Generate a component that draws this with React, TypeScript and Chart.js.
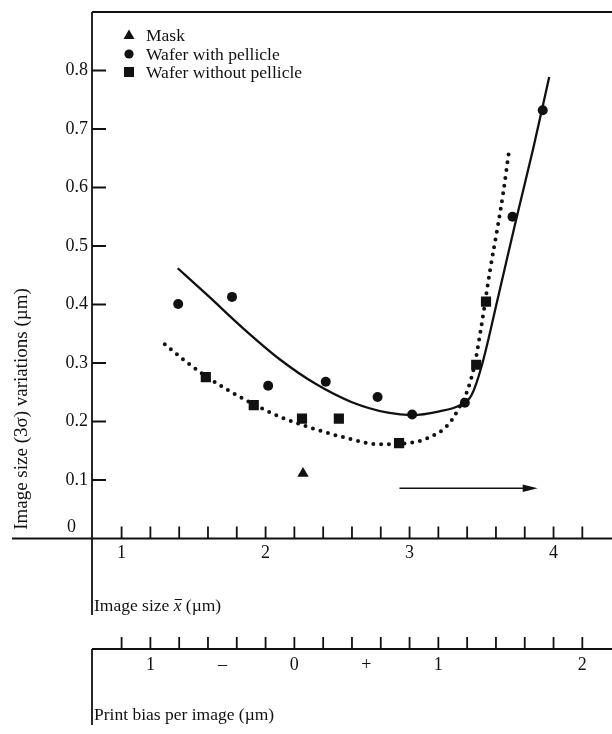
import React, { useEffect, useRef } from "react";
import { Chart, registerables } from "chart.js";
Chart.register(...registerables);

// ---------- data ----------
const maskX = [2.26];
const maskY = [0.111];

const withPellicleX = [1.393, 1.767, 2.018, 2.418, 2.778, 3.018, 3.384, 3.715, 3.925];
const withPellicleY = [0.401, 0.413, 0.261, 0.268, 0.242, 0.212, 0.232, 0.55, 0.732];

const withoutPellicleX = [1.585, 1.918, 2.253, 2.509, 2.927, 3.463, 3.531];
const withoutPellicleY = [0.276, 0.228, 0.205, 0.205, 0.163, 0.297, 0.405];

const withFitX = [1.39, 1.6, 1.85, 2.1, 2.35, 2.6, 2.85, 3.02, 3.2, 3.35, 3.43, 3.5, 3.62, 3.74, 3.86, 3.97];
const withFitY = [0.462, 0.415, 0.358, 0.306, 0.264, 0.233, 0.215, 0.211, 0.217, 0.228, 0.245, 0.294, 0.418, 0.545, 0.668, 0.789];

const withoutFitX = [1.3, 1.45, 1.6, 1.75, 1.92, 2.1, 2.33, 2.56, 2.79, 2.95, 3.13, 3.27, 3.35, 3.4, 3.45, 3.5, 3.56, 3.61, 3.65, 3.69];
const withoutFitY = [0.332, 0.302, 0.275, 0.252, 0.229, 0.208, 0.188, 0.172, 0.161, 0.162, 0.172, 0.195, 0.226, 0.252, 0.295, 0.365, 0.46, 0.53, 0.59, 0.661];

const legendLabels = ["Mask", "Wafer with pellicle", "Wafer without pellicle"];

const yTickValues = [0, 0.1, 0.2, 0.3, 0.4, 0.5, 0.6, 0.7, 0.8];
const yTickLabels = ["0", "0.1", "0.2", "0.3", "0.4", "0.5", "0.6", "0.7", "0.8"];

const xTickValues = [1.0, 1.2, 1.4, 1.6, 1.8, 2.0, 2.2, 2.4, 2.6, 2.8, 3.0, 3.2, 3.4, 3.6, 3.8, 4.0, 4.2];
const xLabelValues = [1, 2, 3, 4];
const xLabels = ["1", "2", "3", "4"];

const biasOffset = 2.2; // print bias 0 corresponds to image size 2.2 µm
const biasTickValues = [-1.2, -1.0, -0.8, -0.6, -0.4, -0.2, 0, 0.2, 0.4, 0.6, 0.8, 1.0, 1.2, 1.4, 1.6, 1.8, 2.0];
const biasLabelValues = [-1, -0.5, 0, 0.5, 1, 2];
const biasLabels = ["1", "\u2013", "0", "+", "1", "2"];

const arrowStartX = 2.93;
const arrowEndX = 3.89;
const arrowY = 0.086;

const yTitle = "Image size (3\u03c3) variations (\u00b5m)";
const biasTitle = "Print bias per image (\u00b5m)";

const FONT = "'Liberation Serif', 'Times New Roman', serif";
const INK = "#111";

function pts(xs: number[], ys: number[]) {
  return xs.map((x, i) => ({ x, y: ys[i] }));
}

const overlay = {
  id: "overlay",
  afterDraw(chart: any) {
    const ctx: CanvasRenderingContext2D = chart.ctx;
    const xs = chart.scales.x;
    const ys = chart.scales.y;
    const area = chart.chartArea;
    const W = chart.width;
    const left = area.left;
    const top = area.top;
    const y0 = ys.getPixelForValue(0);
    ctx.save();
    ctx.strokeStyle = INK;
    ctx.fillStyle = INK;
    ctx.lineWidth = 1.8;
    ctx.lineCap = "butt";

    // frame
    ctx.beginPath();
    ctx.moveTo(left, top);
    ctx.lineTo(W, top);
    ctx.moveTo(left, top);
    ctx.lineTo(left, 615);
    ctx.moveTo(12, y0);
    ctx.lineTo(W, y0);
    ctx.stroke();

    // y ticks
    ctx.beginPath();
    yTickValues.forEach((v) => {
      if (v === 0) return;
      const py = ys.getPixelForValue(v);
      ctx.moveTo(left, py);
      ctx.lineTo(left + 14, py);
    });
    // x ticks
    xTickValues.forEach((v) => {
      const px = xs.getPixelForValue(v);
      ctx.moveTo(px, y0);
      ctx.lineTo(px, y0 - 12);
    });
    ctx.stroke();

    ctx.font = `18px ${FONT}`;
    ctx.textBaseline = "middle";
    ctx.textAlign = "right";
    yTickValues.forEach((v, i) => {
      const py = ys.getPixelForValue(v);
      if (v === 0) ctx.fillText(yTickLabels[i], 76, py - 11);
      else ctx.fillText(yTickLabels[i], 88, py);
    });
    ctx.textAlign = "center";
    xLabelValues.forEach((v, i) => {
      ctx.fillText(xLabels[i], xs.getPixelForValue(v), y0 + 15);
    });

    // x title
    ctx.font = `17.5px ${FONT}`;
    ctx.textAlign = "left";
    let tx = left + 2;
    const ty = 606;
    ctx.fillText("Image size ", tx, ty);
    tx += ctx.measureText("Image size ").width;
    ctx.font = `italic 17.5px ${FONT}`;
    const wx = ctx.measureText("x").width;
    ctx.fillText("x", tx, ty);
    ctx.beginPath();
    ctx.lineWidth = 1;
    ctx.moveTo(tx + 1, ty - 6.5);
    ctx.lineTo(tx + wx + 0.5, ty - 6.5);
    ctx.stroke();
    tx += wx;
    ctx.font = `17.5px ${FONT}`;
    ctx.fillText(" (\u00b5m)", tx, ty);

    // lower bias axis
    const by = 649;
    ctx.lineWidth = 1.8;
    ctx.beginPath();
    ctx.moveTo(left, by);
    ctx.lineTo(W, by);
    ctx.moveTo(left, by);
    ctx.lineTo(left, 725);
    biasTickValues.forEach((v) => {
      const px = xs.getPixelForValue(v + biasOffset);
      ctx.moveTo(px, by);
      ctx.lineTo(px, by - 12);
    });
    ctx.stroke();
    ctx.font = `18px ${FONT}`;
    ctx.textAlign = "center";
    biasLabelValues.forEach((v, i) => {
      ctx.fillText(biasLabels[i], xs.getPixelForValue(v + biasOffset), by + 16);
    });
    ctx.font = `17.5px ${FONT}`;
    ctx.textAlign = "left";
    ctx.fillText(biasTitle, left + 2, 715);

    // y title
    ctx.save();
    ctx.translate(22, 409);
    ctx.rotate(-Math.PI / 2);
    ctx.textAlign = "center";
    ctx.font = `19px ${FONT}`;
    ctx.fillText(yTitle, 0, 0);
    ctx.restore();

    // arrow
    const ax0 = xs.getPixelForValue(arrowStartX);
    const ax1 = xs.getPixelForValue(arrowEndX);
    const ay = ys.getPixelForValue(arrowY);
    ctx.lineWidth = 1.5;
    ctx.beginPath();
    ctx.moveTo(ax0, ay);
    ctx.lineTo(ax1 - 8, ay);
    ctx.stroke();
    ctx.beginPath();
    ctx.moveTo(ax1, ay);
    ctx.lineTo(ax1 - 15, ay - 3.8);
    ctx.lineTo(ax1 - 15, ay + 3.8);
    ctx.closePath();
    ctx.fill();

    // legend
    const lx = 129;
    const rows = [35, 54, 72];
    ctx.beginPath();
    ctx.moveTo(lx, rows[0] - 5.5);
    ctx.lineTo(lx + 5.5, rows[0] + 4);
    ctx.lineTo(lx - 5.5, rows[0] + 4);
    ctx.closePath();
    ctx.fill();
    ctx.beginPath();
    ctx.arc(lx, rows[1], 4.6, 0, Math.PI * 2);
    ctx.fill();
    ctx.fillRect(lx - 5, rows[2] - 5, 10, 10);
    ctx.font = `17.5px ${FONT}`;
    ctx.textAlign = "left";
    legendLabels.forEach((t, i) => ctx.fillText(t, 146, rows[i] + 1));

    ctx.restore();
  },
};

export default function App() {
  const ref = useRef<HTMLCanvasElement | null>(null);
  useEffect(() => {
    document.body.style.margin = "0";
    const canvas = ref.current;
    if (!canvas) return;
    const chart = new Chart(canvas, {
      type: "scatter",
      data: {
        datasets: [
          {
            label: legendLabels[0],
            data: pts(maskX, maskY),
            pointStyle: "triangle",
            pointRadius: 6.6,
            backgroundColor: INK,
            borderColor: INK,
            borderWidth: 0,
          },
          {
            label: legendLabels[1],
            data: pts(withPellicleX, withPellicleY),
            pointStyle: "circle",
            pointRadius: 5,
            backgroundColor: INK,
            borderColor: INK,
            borderWidth: 0,
          },
          {
            label: legendLabels[2],
            data: pts(withoutPellicleX, withoutPellicleY),
            pointStyle: "rect",
            pointRadius: 7.2,
            backgroundColor: INK,
            borderColor: INK,
            borderWidth: 0,
          },
          {
            label: "fit with pellicle",
            data: pts(withFitX, withFitY),
            showLine: true,
            pointRadius: 0,
            borderColor: INK,
            borderWidth: 2.3,
            cubicInterpolationMode: "monotone",
          } as any,
          {
            label: "fit without pellicle",
            data: pts(withoutFitX, withoutFitY),
            showLine: true,
            pointRadius: 0,
            borderColor: INK,
            borderWidth: 4,
            borderDash: [0, 7.8],
            borderCapStyle: "round",
            cubicInterpolationMode: "monotone",
          } as any,
        ],
      },
      options: {
        animation: false,
        responsive: false,
        events: [],
        layout: { padding: { left: 92, top: 12, right: 0, bottom: 195.5 } },
        scales: {
          x: { type: "linear", min: 0.7945, max: 4.356, display: false },
          y: { type: "linear", min: 0, max: 0.9, display: false },
        },
        plugins: {
          legend: { display: false },
          tooltip: { enabled: false },
        },
      },
      plugins: [overlay],
    });
    return () => chart.destroy();
  }, []);
  return (
    <div style={{ width: 612, height: 734, background: "#fff" }}>
      <canvas ref={ref} width={612} height={734} style={{ display: "block" }} />
    </div>
  );
}
